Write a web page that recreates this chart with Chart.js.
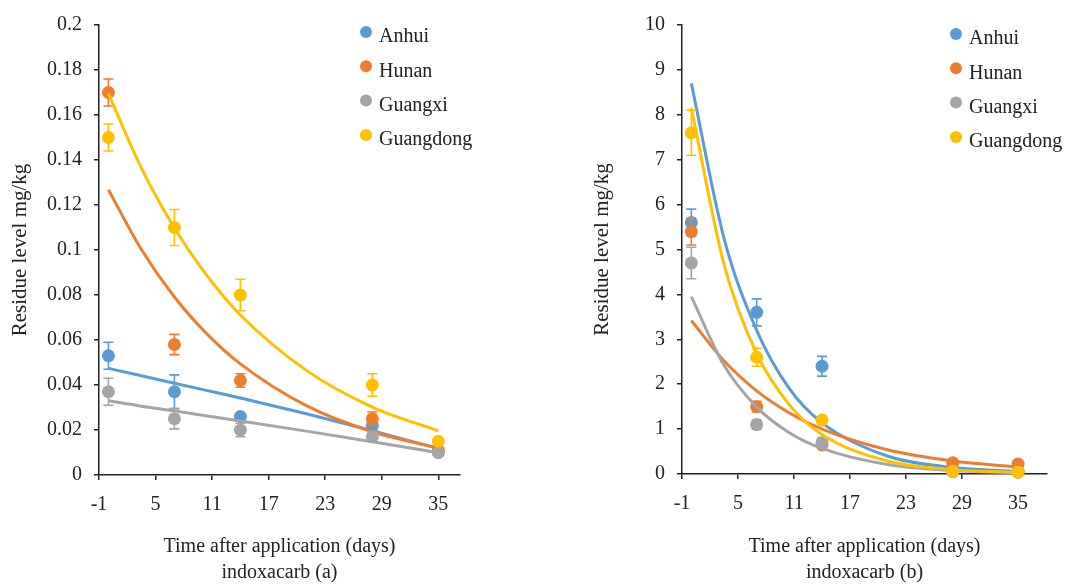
<!DOCTYPE html>
<html>
<head>
<meta charset="utf-8">
<script src="https://cdn.jsdelivr.net/npm/chart.js@4.4.1/dist/chart.umd.min.js"></script>
<style>
  html, body { margin: 0; padding: 0; background: #fff; }
  #wrap { position: relative; width: 1089px; height: 586px; }
  .panel { position: absolute; top: 0; height: 586px; }
  #panelA { left: 0; width: 545px; }
  #panelB { left: 545px; width: 544px; }
</style>
</head>
<body>
<div id="wrap">
  <div class="panel" id="panelA"><canvas id="chartA"></canvas></div>
  <div class="panel" id="panelB"><canvas id="chartB"></canvas></div>
</div>
<script>
// sampling days and regions
const days = [0, 7, 14, 28, 35];
const regions = ['Anhui', 'Hunan', 'Guangxi', 'Guangdong'];
const regionColors = ['#5b9bd5', '#ed7d31', '#a5a5a5', '#ffc000'];
const xTicks = [-1, 5, 11, 17, 23, 29, 35];
const trendDays = [0, 3.5, 7, 10.5, 14, 21, 28, 35];

// panel (a) residues, mg/kg
const anhuiA = [0.053, 0.037, 0.026, 0.022, 0.010];
const hunanA = [0.170, 0.058, 0.042, 0.025, 0.011];
const guangxiA = [0.037, 0.025, 0.020, 0.017, 0.010];
const guangdongA = [0.150, 0.110, 0.080, 0.040, 0.015];
const anhuiErrA = [0.006, 0.0075, 0.001, 0.002, 0.001];
const hunanErrA = [0.006, 0.0045, 0.003, 0.003, 0.001];
const guangxiErrA = [0.006, 0.0045, 0.003, 0.002, 0.001];
const guangdongErrA = [0.006, 0.008, 0.007, 0.005, 0.001];
const anhuiTrendA = [0.0474, 0.0441, 0.0408, 0.0375, 0.0342, 0.0272, 0.0197, 0.0117];
const hunanTrendA = [0.1268, 0.1002, 0.0791, 0.0625, 0.0494, 0.0308, 0.0192, 0.0120];
const guangxiTrendA = [0.0330, 0.0306, 0.0285, 0.0262, 0.0240, 0.0195, 0.0148, 0.0099];
const guangdongTrendA = [0.1695, 0.1364, 0.1098, 0.0884, 0.0711, 0.0465, 0.0302, 0.0196];
const yTicksA = [0, 0.02, 0.04, 0.06, 0.08, 0.1, 0.12, 0.14, 0.16, 0.18, 0.2];

// panel (b) residues, mg/kg
const anhuiB = [5.6, 3.6, 2.4, 0.08, 0.06];
const hunanB = [5.4, 1.5, 0.65, 0.25, 0.22];
const guangxiB = [4.7, 1.1, 0.7, 0.05, 0.04];
const guangdongB = [7.6, 2.6, 1.2, 0.06, 0.04];
const anhuiErrB = [0.3, 0.3, 0.22, 0.02, 0.02];
const hunanErrB = [0.3, 0.12, 0.08, 0.03, 0.03];
const guangxiErrB = [0.35, 0.1, 0.1, 0.02, 0.02];
const guangdongErrB = [0.5, 0.2, 0.08, 0.02, 0.02];
const anhuiTrendB = [8.70, 5.25, 3.20, 1.90, 1.14, 0.40, 0.145, 0.052];
const hunanTrendB = [3.42, 2.52, 1.85, 1.36, 1.00, 0.54, 0.29, 0.157];
const guangxiTrendB = [3.95, 2.42, 1.49, 0.92, 0.57, 0.21, 0.078, 0.029];
const guangdongTrendB = [8.15, 4.67, 2.68, 1.54, 0.88, 0.29, 0.095, 0.031];
const yTicksB = [0, 1, 2, 3, 4, 5, 6, 7, 8, 9, 10];

const INK = '#222';
Chart.defaults.font.family = '"Liberation Serif", "Times New Roman", serif';
Chart.defaults.color = INK;

const errorBars = {
  id: 'errorBars',
  beforeDatasetDraw(chart, args) {
    const ds = chart.data.datasets[args.index];
    if (!ds.errors) return;
    const ys = chart.scales.y;
    const ctx = chart.ctx;
    ctx.save();
    ctx.strokeStyle = ds.backgroundColor;
    ctx.lineWidth = 1.6;
    args.meta.data.forEach((pt, i) => {
      const v = ds.data[i].y, e = ds.errors[i];
      const top = ys.getPixelForValue(v + e);
      const bot = ys.getPixelForValue(v - e);
      ctx.beginPath();
      ctx.moveTo(pt.x, top); ctx.lineTo(pt.x, bot);
      ctx.moveTo(pt.x - 5, top); ctx.lineTo(pt.x + 5, top);
      ctx.moveTo(pt.x - 5, bot); ctx.lineTo(pt.x + 5, bot);
      ctx.stroke();
    });
    ctx.restore();
  }
};

const sideLegend = {
  id: 'sideLegend',
  afterDraw(chart, args, opts) {
    const ctx = chart.ctx;
    ctx.save();
    ctx.font = '20px "Liberation Serif", "Times New Roman", serif';
    ctx.textBaseline = 'middle';
    ctx.textAlign = 'left';
    regions.forEach((name, i) => {
      const y = opts.top + i * opts.step;
      ctx.fillStyle = regionColors[i];
      ctx.beginPath();
      ctx.arc(opts.x, y, 6, 0, Math.PI * 2);
      ctx.fill();
      ctx.fillStyle = INK;
      ctx.fillText(name, opts.x + 13, y + 5);
    });
    ctx.restore();
  }
};

function buildChart(id, series, errors, trends, yTicks, yMax, xMax, caption, legendPos, pad, axisW, axisH) {
  const datasets = [];
  series.forEach((vals, i) => {
    // each region: markers, then its trendline on top
    datasets.push({
      type: 'scatter',
      label: regions[i],
      data: days.map((d, j) => ({ x: d, y: vals[j] })),
      errors: errors[i],
      backgroundColor: regionColors[i],
      borderColor: regionColors[i],
      pointRadius: 6.5,
      pointBorderWidth: 0,
      clip: false,
      order: 8 - i * 2
    });
    datasets.push({
      type: 'line',
      label: regions[i] + ' trend',
      data: trendDays.map((d, j) => ({ x: d, y: trends[i][j] })),
      borderColor: regionColors[i],
      borderWidth: 3,
      pointRadius: 0,
      fill: false,
      cubicInterpolationMode: 'monotone',
      clip: false,
      order: 7 - i * 2
    });
  });

  return new Chart(document.getElementById(id), {
    type: 'scatter',
    data: { datasets: datasets },
    plugins: [errorBars, sideLegend],
    options: {
      responsive: true,
      maintainAspectRatio: false,
      animation: false,
      layout: { padding: pad },
      plugins: {
        legend: { display: false },
        tooltip: { enabled: false },
        sideLegend: legendPos
      },
      scales: {
        x: {
          type: 'linear',
          min: -1,
          max: xMax,
          afterBuildTicks: s => { s.ticks = xTicks.map(v => ({ value: v })); },
          afterFit: s => { s.height = axisH; },
          grid: { display: true, drawOnChartArea: false, drawTicks: true, tickLength: 5, color: INK, lineWidth: 1.5 },
          border: { display: true, color: INK, width: 1.5 },
          ticks: { color: INK, font: { size: 20 }, padding: 13, maxRotation: 0, autoSkip: false },
          title: {
            display: true,
            text: ['Time after application (days)', caption],
            color: INK,
            font: { size: 20, lineHeight: '26px' },
            padding: { top: 0, bottom: 0 }
          }
        },
        y: {
          type: 'linear',
          min: 0,
          max: yMax,
          afterBuildTicks: s => { s.ticks = yTicks.map(v => ({ value: v })); },
          afterFit: s => { s.width = axisW; },
          grid: { display: true, drawOnChartArea: false, drawTicks: true, tickLength: 5, color: INK, lineWidth: 1.5 },
          border: { display: true, color: INK, width: 1.5 },
          ticks: { color: INK, font: { size: 20 }, padding: 12, callback: v => String(+v.toFixed(3)) },
          title: {
            display: true,
            text: 'Residue level mg/kg',
            color: INK,
            font: { size: 21 },
            padding: { top: 8, bottom: 0 }
          }
        }
      }
    }
  });
}

buildChart('chartA',
  [anhuiA, hunanA, guangxiA, guangdongA],
  [anhuiErrA, hunanErrA, guangxiErrA, guangdongErrA],
  [anhuiTrendA, hunanTrendA, guangxiTrendA, guangdongTrendA],
  yTicksA, 0.2, 37.3, 'indoxacarb (a)',
  { x: 366, top: 32, step: 34.3 },
  { left: 0, top: 25, right: 85, bottom: 0 }, 99, 111);

buildChart('chartB',
  [anhuiB, hunanB, guangxiB, guangdongB],
  [anhuiErrB, hunanErrB, guangxiErrB, guangdongErrB],
  [anhuiTrendB, hunanTrendB, guangxiTrendB, guangdongTrendB],
  yTicksB, 10, 38.1, 'indoxacarb (b)',
  { x: 411, top: 34, step: 34.3 },
  { left: 37, top: 25, right: 42, bottom: 0 }, 100, 112);
</script>
</body>
</html>
